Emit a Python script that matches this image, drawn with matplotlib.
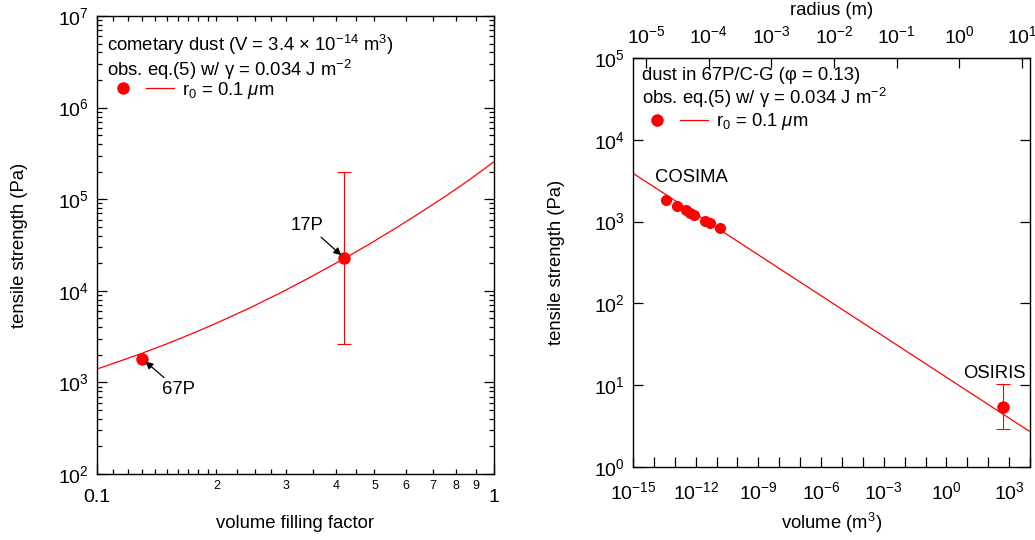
import numpy as np
import matplotlib
matplotlib.use("Agg")
import matplotlib.pyplot as plt
from matplotlib.lines import Line2D
from matplotlib.legend_handler import HandlerTuple
from matplotlib.ticker import (FixedLocator, FixedFormatter, FuncFormatter,
                               LogLocator, NullLocator, NullFormatter,
                               LogFormatterMathtext)

plt.rcParams['font.family'] = ['Liberation Sans', 'DejaVu Sans']
plt.rcParams['mathtext.fontset'] = 'custom'
plt.rcParams['mathtext.rm'] = 'Liberation Sans'
plt.rcParams['mathtext.it'] = 'Liberation Sans:italic'
plt.rcParams['mathtext.default'] = 'regular'

RED = '#ff0000'
FS = 13.3

# --- left: tensile strength vs filling factor (V = 3.4e-14 m^3) ---
phi_model = [0.100, 0.1143, 0.1298, 0.1527, 0.1775, 0.2040, 0.2428, 0.2889,
             0.3438, 0.4188, 0.4874, 0.5700, 0.6513, 0.7624, 0.8705, 1.0]
ts_phi_model = [1.40e3, 1.71e3, 2.08e3, 2.72e3, 3.55e3, 4.61e3, 6.52e3, 9.44e3,
                1.40e4, 2.24e4, 3.27e4, 4.94e4, 7.11e4, 1.11e5, 1.65e5, 2.57e5]

comet_names = ['67P', '17P']
comet_phi = [0.13, 0.42]
comet_ts = [1.81e3, 2.28e4]
p17_ts_low = 2.66e3
p17_ts_high = 1.96e5

# --- right: tensile strength vs volume (phi = 0.13) ---
vol_model = [1e-15, 1e4]
ts_vol_model = [3.9e3, 2.7]

cosima_vol = [3.6e-14, 1.23e-13, 3.36e-13, 5.33e-13, 8.47e-13, 2.94e-12, 5.1e-12, 1.46e-11]
cosima_ts = [1.86e3, 1.56e3, 1.39e3, 1.28e3, 1.21e3, 1.03e3, 961, 828]

osiris_vol = 490.0
osiris_ts = 5.46
osiris_ts_low = 2.94
osiris_ts_high = 10.3

phi_minor = [0.11, 0.12, 0.13, 0.14, 0.15, 0.16, 0.17, 0.18, 0.19,
             0.2, 0.225, 0.25, 0.275, 0.3, 0.35, 0.4, 0.45,
             0.5, 0.6, 0.7, 0.8, 0.9]
phi_minor_labels = {0.2: '2', 0.3: '3', 0.4: '4', 0.5: '5',
                    0.6: '6', 0.7: '7', 0.8: '8', 0.9: '9'}


def vol_to_rad(v):
    return np.cbrt(3.0 * np.asarray(v, dtype=float) / (4.0 * np.pi))


def rad_to_vol(r):
    return 4.0 * np.pi / 3.0 * np.asarray(r, dtype=float) ** 3


fig = plt.figure(figsize=(10.35, 5.4), dpi=100)
ax1 = fig.add_axes([0.0937, 0.1222, 0.3836, 0.8481])
ax2 = fig.add_axes([0.6116, 0.1352, 0.3836, 0.7574])

for ax in (ax1, ax2):
    for sp in ax.spines.values():
        sp.set_linewidth(1.0)

# ---------------- left panel ----------------
ax1.set_xscale('log')
ax1.set_yscale('log')
ax1.plot(phi_model, ts_phi_model, color=RED, lw=0.9)
ax1.errorbar([comet_phi[1]], [comet_ts[1]],
             yerr=[[comet_ts[1] - p17_ts_low], [p17_ts_high - comet_ts[1]]],
             fmt='none', ecolor=RED, elinewidth=0.8, capsize=4.7, capthick=0.8)
ax1.plot(comet_phi, comet_ts, 'o', color=RED, ms=9, mec='none')

ax1.annotate(comet_names[0], xy=(comet_phi[0], comet_ts[0]), xytext=(36, -31),
             textcoords='offset pixels', ha='center', va='center', fontsize=FS,
             arrowprops=dict(arrowstyle='-|>', color='black', lw=0.9,
                             mutation_scale=11, shrinkA=1, shrinkB=3))
ax1.annotate(comet_names[1], xy=(comet_phi[1], comet_ts[1]), xytext=(-37, 33),
             textcoords='offset pixels', ha='center', va='center', fontsize=FS,
             arrowprops=dict(arrowstyle='-|>', color='black', lw=0.9,
                             mutation_scale=11, shrinkA=1, shrinkB=3))

ax1.set_xlim(0.1, 1)
ax1.set_ylim(1e2, 1e7)
ax1.xaxis.set_major_locator(FixedLocator([0.1, 1]))
ax1.xaxis.set_major_formatter(FixedFormatter(['0.1', '1']))
ax1.xaxis.set_minor_locator(FixedLocator(phi_minor))
ax1.xaxis.set_minor_formatter(FuncFormatter(
    lambda v, p: next((s for k, s in phi_minor_labels.items() if abs(k - v) < 1e-6), '')))
ax1.yaxis.set_major_locator(LogLocator(base=10, numticks=10))
ax1.yaxis.set_major_formatter(LogFormatterMathtext())
ax1.yaxis.set_minor_locator(LogLocator(base=10, subs=np.arange(2, 10), numticks=20))
ax1.yaxis.set_minor_formatter(NullFormatter())

ax1.tick_params(which='both', direction='in', top=True, right=True, width=0.9)
ax1.tick_params(which='major', length=7)
ax1.tick_params(which='minor', length=3.5)
ax1.tick_params(axis='x', which='major', labelsize=14, pad=11)
ax1.tick_params(axis='x', which='minor', labelsize=9, pad=4)
ax1.tick_params(axis='y', which='major', labelsize=14, pad=6)

ax1.set_xlabel('volume filling factor', fontsize=FS)
ax1.set_ylabel('tensile strength (Pa)', fontsize=FS)
ax1.xaxis.set_label_coords(0.5, -0.09)
ax1.yaxis.set_label_coords(-0.174, 0.5)

ax1.text(0.025, 0.937, 'cometary dust (V = 3.4 × 10$^{-14}$ m$^3$)',
         transform=ax1.transAxes, fontsize=FS, va='center', ha='left')
ax1.text(0.025, 0.882, 'obs. eq.(5) w/ γ = 0.034 J m$^{-2}$',
         transform=ax1.transAxes, fontsize=FS, va='center', ha='left')

h_dot = Line2D([], [], marker='o', ls='none', color=RED, ms=9, mec='none')
h_line = Line2D([], [], color=RED, lw=0.9)
ax1.legend([(h_dot, h_line)], ['r$_0$ = 0.1 $\\mathit{\\mu}$m'],
           handler_map={tuple: HandlerTuple(ndivide=None, pad=0.55)},
           loc='center left', bbox_to_anchor=(0.03, 0.838), frameon=False,
           fontsize=FS, handlelength=3.5, handletextpad=0.45,
           borderpad=0, borderaxespad=0)

# ---------------- right panel ----------------
ax2.set_xscale('log')
ax2.set_yscale('log')
ax2.plot(vol_model, ts_vol_model, color=RED, lw=0.9)
ax2.plot(cosima_vol, cosima_ts, 'o', color=RED, ms=8, mec='none')
ax2.errorbar([osiris_vol], [osiris_ts],
             yerr=[[osiris_ts - osiris_ts_low], [osiris_ts_high - osiris_ts]],
             fmt='o', color=RED, ms=9, mec='none', ecolor=RED,
             elinewidth=0.8, capsize=4.7, capthick=0.8)

ax2.annotate('COSIMA', xy=(cosima_vol[0], cosima_ts[0]), xytext=(26, 22),
             textcoords='offset pixels', ha='center', va='center', fontsize=FS)
ax2.annotate('OSIRIS', xy=(osiris_vol, osiris_ts), xytext=(-8, 33),
             textcoords='offset pixels', ha='center', va='center', fontsize=FS)

ax2.set_xlim(1e-15, 1e4)
ax2.set_ylim(1e0, 1e5)
vol_ticks = 10.0 ** np.arange(-15, 5)
ax2.xaxis.set_major_locator(FixedLocator(vol_ticks))
ax2.xaxis.set_major_formatter(FuncFormatter(
    lambda v, p: '$10^{%d}$' % round(np.log10(v)) if round(np.log10(v)) % 3 == 0 else ''))
ax2.xaxis.set_minor_locator(NullLocator())
ax2.yaxis.set_major_locator(LogLocator(base=10, numticks=10))
ax2.yaxis.set_major_formatter(LogFormatterMathtext())
ax2.yaxis.set_minor_locator(NullLocator())

ax2.tick_params(which='both', direction='in', top=False, right=True, width=0.9)
ax2.tick_params(which='major', length=7)
ax2.tick_params(axis='x', labelsize=14, pad=10)
ax2.tick_params(axis='y', labelsize=14, pad=6)

ax2.set_xlabel('volume (m$^3$)', fontsize=FS)
ax2.set_ylabel('tensile strength (Pa)', fontsize=FS)
ax2.xaxis.set_label_coords(0.5, -0.108)
ax2.yaxis.set_label_coords(-0.171, 0.5)

sec = ax2.secondary_xaxis('top', functions=(vol_to_rad, rad_to_vol))
sec.set_xticks(10.0 ** np.arange(-5, 2))
sec.xaxis.set_major_formatter(LogFormatterMathtext())
sec.xaxis.set_minor_locator(NullLocator())
sec.tick_params(direction='in', length=7, width=0.9, labelsize=14, pad=8)
sec.set_xlabel('radius (m)', fontsize=FS)
sec.xaxis.set_label_coords(0.5, 1.105, transform=ax2.transAxes)

ax2.text(0.023, 0.958, 'dust in 67P/C-G (φ = 0.13)',
         transform=ax2.transAxes, fontsize=FS, va='center', ha='left')
ax2.text(0.023, 0.902, 'obs. eq.(5) w/ γ = 0.034 J m$^{-2}$',
         transform=ax2.transAxes, fontsize=FS, va='center', ha='left')
ax2.legend([(h_dot, h_line)], ['r$_0$ = 0.1 $\\mathit{\\mu}$m'],
           handler_map={tuple: HandlerTuple(ndivide=None, pad=0.55)},
           loc='center left', bbox_to_anchor=(0.025, 0.844), frameon=False,
           fontsize=FS, handlelength=3.5, handletextpad=0.45,
           borderpad=0, borderaxespad=0)

fig.savefig('out.png', dpi=100)
